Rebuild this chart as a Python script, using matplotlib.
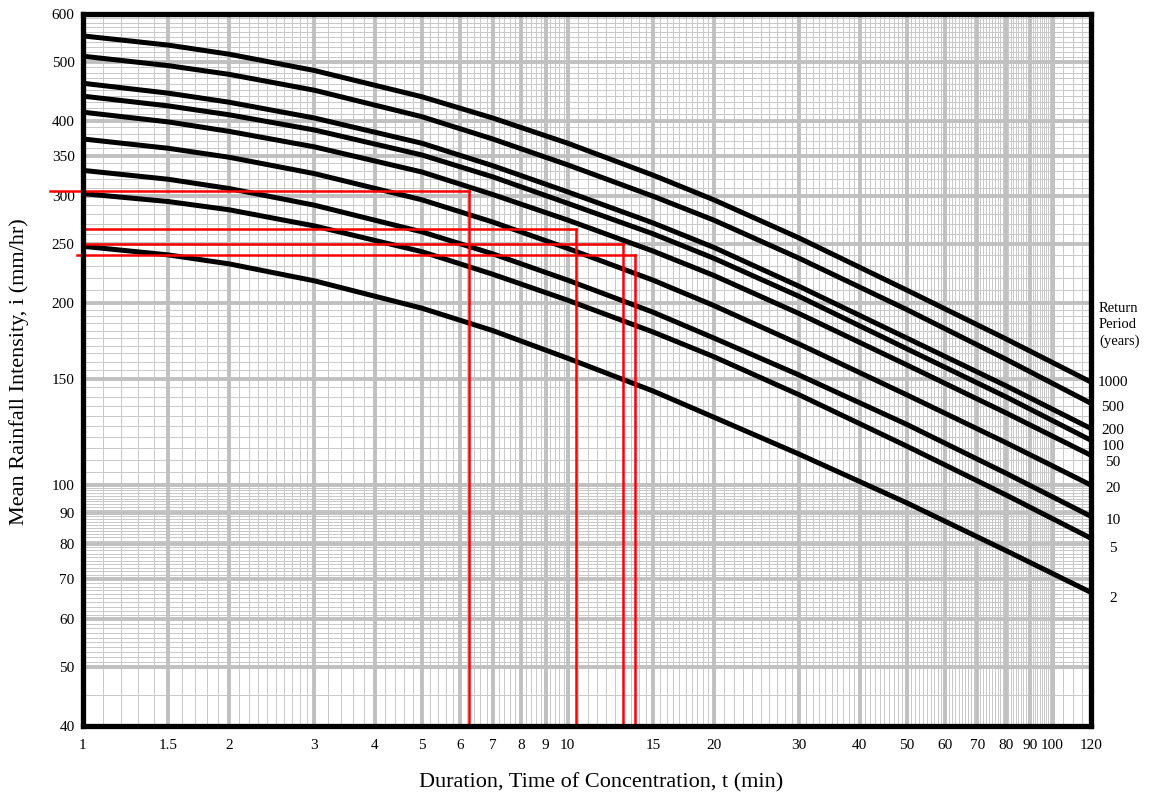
import numpy as np
import matplotlib
matplotlib.use("Agg")
import matplotlib.pyplot as plt
from matplotlib.ticker import FixedLocator, FixedFormatter, NullFormatter

# ---------------------------
# Datos (IDF)
# ---------------------------
duration = [1, 1.5, 2, 3, 5, 7, 10, 15, 20, 30, 50, 80, 120]

i_1000 = [552, 533, 515, 484, 438, 404, 367, 325, 296, 256, 210, 174.5, 148]
i_500 = [511, 493, 477, 449, 406, 373, 338, 300, 274, 237, 195, 161.5, 136.5]
i_200 = [461, 444, 429, 404, 367, 337, 305, 271, 247, 213, 175, 146, 124]
i_100 = [439, 423, 409, 386, 351, 323, 292, 260, 237, 205, 168, 140, 118.6]
i_50 = [413, 398, 384, 362, 329, 302, 274, 243.5, 222, 192, 158, 131.7, 112]
i_20 = [373, 360, 348, 327, 296, 272, 246, 218, 198, 171, 141, 117.6, 100]
i_10 = [331, 320, 309, 290, 262, 241, 218, 193, 175, 152, 126, 104.7, 88.8]
i_5 = [303, 294, 285, 268, 243, 223, 202, 179, 163, 141, 116, 96.4, 81.7]
i_2 = [248, 240, 232, 217.5, 196, 180, 162, 143, 129.5, 112.5, 93.5, 78, 66.5]

return_periods = ["1000", "500", "200", "100", "50", "20", "10", "5", "2"]
curves = [i_1000, i_500, i_200, i_100, i_50, i_20, i_10, i_5, i_2]

# lineas rojas de lectura: (t, i, inicio en x)
red_t = [6.26, 10.4, 13.0, 13.76]
red_i = [306, 265, 250, 239.5]
red_x0 = [0.855, 0.995, 1.01, 0.972]

x_ticks = [1, 1.5, 2, 3, 4, 5, 6, 7, 8, 9, 10, 15, 20, 30, 40, 50, 60, 70, 80, 90, 100, 120]
x_labels = ["1", "1.5", "2", "3", "4", "5", "6", "7", "8", "9", "10", "15", "20",
            "30", "40", "50", "60", "70", "80", "90", "100", "120"]
y_ticks = [40, 50, 60, 70, 80, 90, 100, 150, 200, 250, 300, 350, 400, 500, 600]

# ---------------------------
# Figura
# ---------------------------
plt.rcParams["font.family"] = ["Liberation Serif", "DejaVu Serif"]

fig = plt.figure(figsize=(11.49, 7.99), dpi=100)
ax = fig.add_axes([0.0722, 0.0913, 0.8773, 0.8912])
ax.set_xscale("log")
ax.set_yscale("log")
ax.set_xlim(1, 120)
ax.set_ylim(40, 600)

# rejilla
x_minor = np.concatenate([np.arange(1, 3, 0.1), np.arange(3, 10, 0.2),
                          np.arange(10, 20, 0.5), np.arange(20, 100, 1),
                          np.arange(100, 120, 5)])
y_minor = np.concatenate([np.arange(40, 50, 5), np.arange(50, 100, 1),
                          np.arange(100, 200, 5), np.arange(200, 600, 10)])

for v in x_minor:
    ax.axvline(v, color="#c8c8c8", lw=0.7, zorder=0)
for v in y_minor:
    ax.axhline(v, color="#c8c8c8", lw=0.7, zorder=0)
for v in x_ticks[1:-1]:
    ax.axvline(v, color="#c0c0c0", lw=2.8, zorder=0.5)
for v in y_ticks[1:-1]:
    ax.axhline(v, color="#c0c0c0", lw=2.8, zorder=0.5)

# curvas
for vals in curves:
    ax.plot(duration, vals, color="black", lw=3.6, solid_joinstyle="round", zorder=3)

# lineas rojas
for t, i, x0 in zip(red_t, red_i, red_x0):
    ax.plot([x0, t], [i, i], color="red", lw=1.8, zorder=4, clip_on=False)
    ax.plot([t, t], [i, 40], color="red", lw=1.8, zorder=4)

ax.xaxis.set_major_locator(FixedLocator(x_ticks))
ax.xaxis.set_major_formatter(FixedFormatter(x_labels))
ax.xaxis.set_minor_formatter(NullFormatter())
ax.yaxis.set_major_locator(FixedLocator(y_ticks))
ax.yaxis.set_major_formatter(FixedFormatter([str(v) for v in y_ticks]))
ax.yaxis.set_minor_formatter(NullFormatter())
ax.tick_params(which="both", length=0)
ax.tick_params(axis="x", pad=9, labelsize=11)
ax.tick_params(axis="y", pad=6, labelsize=11)

for s in ax.spines.values():
    s.set_linewidth(3.8)
    s.set_color("black")
    s.set_zorder(5)

fig.text(0.523, 0.02, "Duration, Time of Concentration, t (min)",
         ha="center", va="center", fontsize=16)
fig.text(0.017, 0.535, "Mean Rainfall Intensity, i (mm/hr)",
         ha="center", va="center", rotation=90, fontsize=16)

# etiquetas del periodo de retorno
fig.text(1099 / 1149, 1 - 325 / 799, "Return\nPeriod\n(years)",
         ha="left", va="center", fontsize=10.5, linespacing=1.3)
label_y = [383, 408, 430, 446, 463, 488, 520, 548, 598]
for rp, yp in zip(return_periods, label_y):
    fig.text(1113 / 1149, 1 - yp / 799, rp, ha="center", va="center", fontsize=11)

fig.savefig("out.png", dpi=100)
